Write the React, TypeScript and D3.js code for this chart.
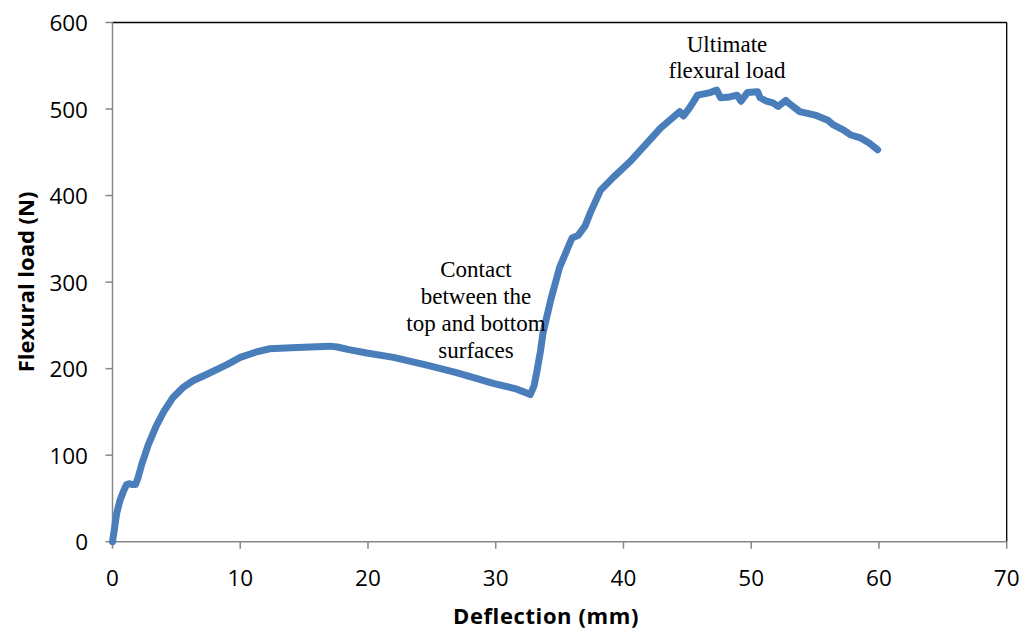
import React from "react";
import * as d3 from "d3";

const deflection = [0, 0.15, 0.33, 0.59, 0.85, 1.1, 1.3, 1.55, 1.8, 2.0, 2.3, 2.8, 3.4, 4.0, 4.7, 5.5, 6.3, 7.6, 9.0, 10.0, 11.2, 12.3, 14.0, 15.5, 17.0, 17.6, 18.5, 19.9, 22.0, 24.6, 27.0, 29.8, 31.5, 32.4, 32.7, 33.0, 33.2, 33.5, 33.7, 34.3, 35.0, 35.6, 35.98, 36.45, 37.0, 37.4, 38.2, 39.2, 40.5, 41.8, 42.9, 44.4, 44.7, 45.2, 45.8, 46.8, 47.3, 47.6, 48.3, 48.9, 49.2, 49.7, 50.5, 50.7, 51.2, 51.7, 52.1, 52.7, 53.0, 53.8, 55.0, 56.0, 56.4, 57.2, 57.8, 58.5, 59.2, 59.9];
const load = [0, 15, 33, 48, 58, 66, 67, 66, 66, 74, 90, 112, 133, 150, 166, 178, 186, 195, 205, 213, 219, 223, 224, 225, 226, 225, 222, 218, 213, 204, 195, 183, 177, 172, 170, 180, 195, 220, 241, 279, 317, 338, 351, 354, 365, 380, 406, 421, 439, 460, 478, 497, 492, 502, 516, 519, 522, 513, 514, 516, 509, 519, 520, 513, 509, 507, 503, 510, 506, 497, 493, 487, 482, 476, 470, 467, 461, 453];

const xTicks = [0, 10, 20, 30, 40, 50, 60, 70];
const yTicks = [0, 100, 200, 300, 400, 500, 600];

const contactLines = ["Contact", "between the", "top and bottom", "surfaces"];
const ultimateLines = ["Ultimate", "flexural load"];

const W = 1024;
const H = 629;
const L = 112.5;
const R = 1006.7;
const T = 22.5;
const B = 541.7;

export default function App() {
  const x = d3.scaleLinear().domain([0, 70]).range([L, R]);
  const y = d3.scaleLinear().domain([0, 600]).range([B, T]);
  const pts = deflection.map((d, i) => [d, load[i]] as [number, number]);
  const line = d3
    .line<[number, number]>()
    .x((d) => x(d[0]))
    .y((d) => y(d[1]))
    .curve(d3.curveLinear);
  const axisGrey = "#868686";
  const sans = "'Open Sans', sans-serif";
  const serif = "'Liberation Serif', 'Times New Roman', serif";
  return (
    <svg
      width={W}
      height={H}
      style={{ position: "absolute", left: 0, top: 0, background: "#fff" }}
    >
      <rect x={0} y={0} width={W} height={H} fill="#fff" />
      <line x1={L} x2={R} y1={T} y2={T} stroke="#000" strokeWidth={1.3} />
      <line x1={R} x2={R} y1={T} y2={B} stroke="#000" strokeWidth={1.3} />
      <line x1={L} x2={L} y1={T} y2={B} stroke={axisGrey} strokeWidth={1.5} />
      <line x1={L} x2={R} y1={B} y2={B} stroke={axisGrey} strokeWidth={1.5} />
      {yTicks.map((t) => (
        <g key={"y" + t}>
          <line x1={L - 7} x2={L} y1={y(t)} y2={y(t)} stroke={axisGrey} strokeWidth={1.5} />
          <text
            x={88}
            y={y(t)}
            textAnchor="end"
            dominantBaseline="central"
            fontFamily={sans}
            fontSize={22.5}
            fill="#000"
          >
            {t}
          </text>
        </g>
      ))}
      {xTicks.map((t) => (
        <g key={"x" + t}>
          <line x1={x(t)} x2={x(t)} y1={B} y2={B + 7} stroke={axisGrey} strokeWidth={1.5} />
          <text
            x={x(t)}
            y={577}
            textAnchor="middle"
            dominantBaseline="central"
            fontFamily={sans}
            fontSize={22.5}
            fill="#000"
          >
            {t}
          </text>
        </g>
      ))}
      <text
        x={546}
        y={615}
        textAnchor="middle"
        dominantBaseline="central"
        fontFamily={sans}
        fontWeight="bold"
        fontSize={22}
        letterSpacing={0.6}
      >
        Deflection (mm)
      </text>
      <text
        transform={`translate(25,282) rotate(-90)`}
        textAnchor="middle"
        dominantBaseline="central"
        fontFamily={sans}
        fontWeight="bold"
        fontSize={22}
      >
        Flexural load (N)
      </text>
      <path
        d={line(pts) || ""}
        fill="none"
        stroke="#4a7ebb"
        strokeWidth={7}
        strokeLinejoin="round"
        strokeLinecap="round"
      />
      {contactLines.map((s, i) => (
        <text
          key={s}
          x={476}
          y={276.7 + i * 27}
          textAnchor="middle"
          fontFamily={serif}
          fontSize={23}
          fill="#000"
        >
          {s}
        </text>
      ))}
      {ultimateLines.map((s, i) => (
        <text
          key={s}
          x={727}
          y={52.3 + i * 26}
          textAnchor="middle"
          fontFamily={serif}
          fontSize={23}
          fill="#000"
        >
          {s}
        </text>
      ))}
    </svg>
  );
}
